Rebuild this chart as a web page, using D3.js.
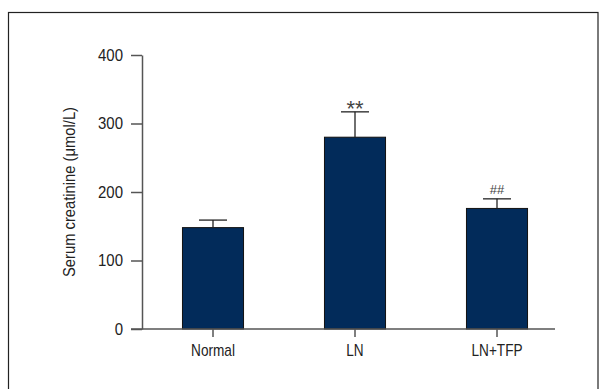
<!DOCTYPE html>
<html><head><meta charset="utf-8">
<script src="https://cdn.jsdelivr.net/npm/d3@7"></script>
<style>
html,body{margin:0;padding:0;background:#fff;}
svg{display:block;}
text{font-family:"Liberation Sans",Arial,sans-serif;fill:#222;}
</style></head>
<body>
<svg id="chart" width="599" height="389"></svg>
<script>
const categories = ["Normal", "LN", "LN+TFP"];
const means = [148, 280, 176];
const errors = [11, 37, 14];
const marks = ["", "**", "##"];
const yTicks = [0, 100, 200, 300, 400];
const yTitle = "Serum creatinine (\u03bcmol/L)";

const svg = d3.select("#chart");
svg.append("rect").attr("x", 8.5).attr("y", 12.5).attr("width", 589.5).attr("height", 400)
  .attr("fill", "none").attr("stroke", "#222").attr("stroke-width", 1.2);

const y = d3.scaleLinear().domain([0, 400]).range([329, 55]);
const x = d3.scaleBand().domain(categories).range([142, 568]).paddingInner(0.57).paddingOuter(0.285);
const axisX = 142;

function condense(sel, f) {
  sel.each(function () {
    const w = this.getComputedTextLength();
    d3.select(this).attr("textLength", w * f).attr("lengthAdjust", "spacingAndGlyphs");
  });
}

// bars
svg.selectAll("rect.bar").data(categories).enter().append("rect")
  .attr("class", "bar")
  .attr("x", d => x(d)).attr("width", x.bandwidth())
  .attr("y", (d, i) => y(means[i])).attr("height", (d, i) => y(0) - y(means[i]))
  .attr("fill", "#022b5a").attr("stroke", "#111").attr("stroke-width", 1);

// error bars
const cap = 14;
categories.forEach((c, i) => {
  const cx = x(c) + x.bandwidth() / 2;
  const top = y(means[i] + errors[i]);
  svg.append("line").attr("x1", cx).attr("x2", cx).attr("y1", y(means[i])).attr("y2", top)
    .attr("stroke", "#222").attr("stroke-width", 1.3);
  svg.append("line").attr("x1", cx - cap).attr("x2", cx + cap).attr("y1", top).attr("y2", top)
    .attr("stroke", "#222").attr("stroke-width", 1.3);
  if (marks[i] === "**") {
    svg.append("text").attr("x", cx).attr("y", top + 4)
      .attr("text-anchor", "middle").attr("font-size", 22).style("fill", "#444").text(marks[i]);
  } else if (marks[i]) {
    svg.append("text").attr("x", cx).attr("y", top - 5)
      .attr("text-anchor", "middle").attr("font-size", 13).style("fill", "#444").text(marks[i]);
  }
});

// y axis
const yAxis = d3.axisLeft(y).tickValues(yTicks).tickSize(11).tickPadding(8).tickSizeOuter(0);
const gy = svg.append("g").attr("transform", `translate(${axisX},0)`).call(yAxis);
gy.attr("font-family", null);
gy.select(".domain").attr("stroke", "#555").attr("stroke-width", 1.5);
gy.selectAll(".tick line").attr("stroke", "#555").attr("stroke-width", 1.5);
gy.selectAll(".tick text").attr("font-size", 17).style("fill", "#222").call(condense, 0.88);

// x axis
const gx = svg.append("g").attr("transform", `translate(0,${y(0)})`)
  .call(d3.axisBottom(x).tickSize(8).tickPadding(7).tickSizeOuter(0));
gx.attr("font-family", null);
gx.select(".domain").remove();
gx.append("line").attr("x1", 131).attr("x2", 555).attr("y1", 0).attr("y2", 0).attr("stroke", "#555").attr("stroke-width", 1.5);
gx.selectAll(".tick line").attr("stroke", "#555").attr("stroke-width", 1.5).attr("y1", 0);
gx.selectAll(".tick text").attr("font-size", 17).style("fill", "#222").call(condense, 0.8);

// y title
const title = svg.append("text").attr("transform", `translate(75,192) rotate(-90)`)
  .attr("text-anchor", "middle").attr("font-size", 17).text(yTitle);
title.attr("textLength", 170).attr("lengthAdjust", "spacingAndGlyphs");
</script>
</body></html>
